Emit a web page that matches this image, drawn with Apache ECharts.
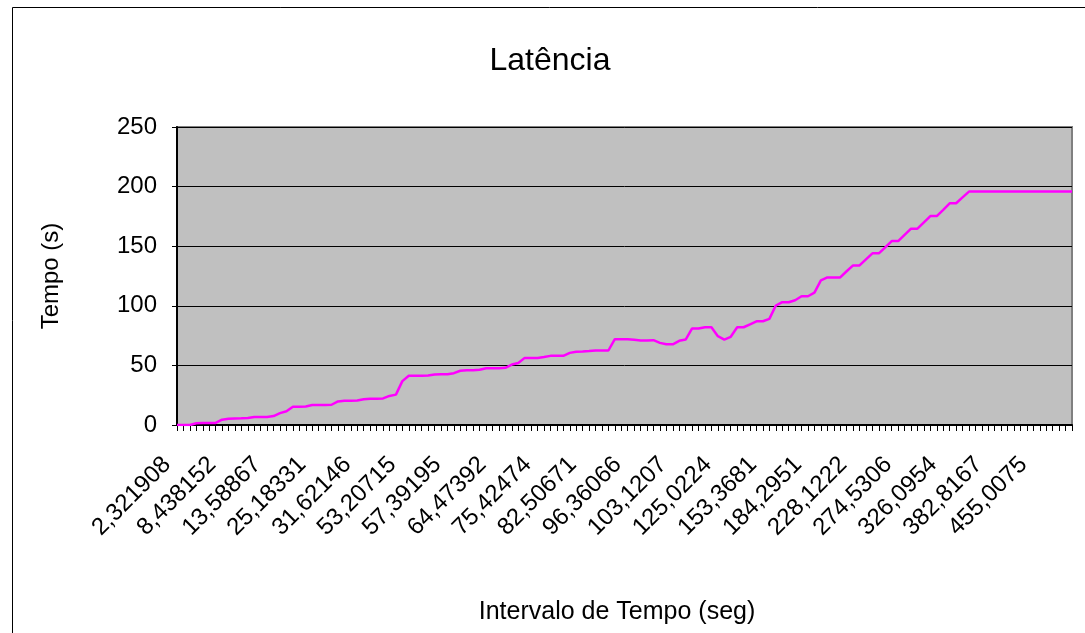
<!DOCTYPE html>
<html>
<head>
<meta charset="utf-8">
<title>Latência</title>
<script src="https://cdn.jsdelivr.net/npm/echarts@6/dist/echarts.min.js"></script>
<style>
  html, body { margin: 0; padding: 0; background: #fff; }
  #main { width: 1085px; height: 633px; }
</style>
</head>
<body>
<div id="main"></div>
<script>
// rótulos visíveis do eixo X (um a cada 7 categorias)
const tickLabels = ['2,321908', '8,438152', '13,58867', '25,18331', '31,62146',
  '53,20715', '57,39195', '64,47392', '75,42474', '82,50671', '96,36066',
  '103,1207', '125,0224', '153,3681', '184,2951', '228,1222', '274,5306',
  '326,0954', '382,8167', '455,0075'];
const labelStep = 7;

// latência (s)
const latencia = [
  0, 0, 0, 1.5, 1.7, 1.7, 1.7, 4.5, 5.2, 5.4,
  5.6, 5.9, 6.8, 6.8, 6.8, 7.5, 10, 11.5, 15.4, 15.4,
  15.6, 16.8, 16.8, 16.8, 17, 19.8, 20.4, 20.4, 20.5, 21.6,
  22, 22, 22.3, 24.4, 25.5, 36.8, 41.3, 41.3, 41.3, 41.6,
  42.3, 42.5, 42.5, 43.5, 45.5, 45.9, 46, 46.4, 47.6, 47.6,
  47.6, 48, 50.7, 52, 56.3, 56.3, 56.3, 57, 58, 58,
  58, 60.5, 61.4, 61.6, 62, 62.5, 62.5, 62.5, 72, 72,
  72, 71.5, 70.8, 70.8, 71.2, 68.9, 67.7, 67.7, 70.6, 71.7,
  81, 81, 82, 82, 74.5, 71.7, 74, 82, 82, 84.5,
  87, 87, 89, 100.2, 103, 103, 104.7, 108, 108, 111,
  121.3, 123.8, 123.8, 123.8, 129, 133.9, 133.9, 139, 144, 144,
  149, 154.3, 154.3, 159.5, 164.7, 164.7, 170, 175.3, 175.3, 180.5,
  186, 186, 191, 195.8, 195.8, 195.8, 195.8, 195.8, 195.8, 195.8,
  195.8, 195.8, 195.8, 195.8, 195.8, 195.8, 195.8, 195.8, 195.8, 195.8
];

const categorias = latencia.map((v, i) => String(i));
const fonte = '"Liberation Sans", Arial, sans-serif';

const chart = echarts.init(document.getElementById('main'));

// texto solto (títulos dos eixos)
function texto(txt, x, y, size, rot) {
  return {
    type: 'text',
    silent: true,
    x: x,
    y: y,
    rotation: rot || 0,
    style: {
      text: txt,
      fontFamily: fonte,
      fontSize: size,
      fill: '#000',
      align: 'center',
      verticalAlign: 'middle'
    }
  };
}

const option = {
  backgroundColor: '#ffffff',
  animation: false,
  title: {
    text: 'Latência',
    left: 545,
    top: 40,
    textAlign: 'center',
    textStyle: { fontFamily: fonte, fontSize: 32, fontWeight: 'normal', color: '#000' }
  },
  graphic: [
    // moldura externa do gráfico
    {
      type: 'rect',
      silent: true,
      shape: { x: 12.5, y: 7.5, width: 1100, height: 700 },
      style: { fill: 'none', stroke: '#000', lineWidth: 1 }
    },
    texto('Tempo (s)', 51, 276, 24, Math.PI / 2),
    texto('Intervalo de Tempo (seg)', 617, 612, 25)
  ],
  grid: {
    left: 177,
    top: 127,
    width: 895,
    height: 298,
    show: true,
    backgroundColor: '#c0c0c0',
    borderColor: '#808080',
    borderWidth: 2
  },
  xAxis: {
    type: 'category',
    boundaryGap: false,
    data: categorias,
    axisLine: { lineStyle: { color: '#000', width: 2 } },
    axisTick: { show: true, interval: 0, length: 6, lineStyle: { color: '#000', width: 1 } },
    axisLabel: {
      interval: labelStep - 1,
      rotate: 45,
      margin: 26,
      padding: [0, 14, 0, 0],
      fontFamily: fonte,
      fontSize: 24,
      color: '#000',
      formatter: (v, i) => tickLabels[i / labelStep] || ''
    },
    splitLine: { show: false }
  },
  yAxis: {
    type: 'value',
    min: 0,
    max: 250,
    interval: 50,
    axisLine: { show: true, lineStyle: { color: '#000', width: 2 } },
    axisTick: { show: true, length: 5, lineStyle: { color: '#000' } },
    axisLabel: { margin: 20, fontFamily: fonte, fontSize: 24, color: '#000' },
    splitLine: { lineStyle: { color: '#000', width: 1 } }
  },
  series: [{
    name: 'Latência',
    type: 'line',
    data: latencia,
    showSymbol: false,
    symbol: 'none',
    lineStyle: { color: '#ff00ff', width: 2.5 },
    itemStyle: { color: '#ff00ff' }
  }]
};

chart.setOption(option);
</script>
</body>
</html>
